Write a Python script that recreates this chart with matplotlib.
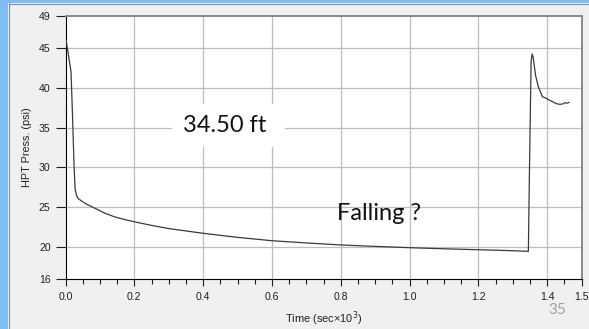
import matplotlib
matplotlib.use("Agg")
import matplotlib.pyplot as plt
from matplotlib.patches import Rectangle
from matplotlib.ticker import MultipleLocator, FixedLocator

# ---- data ----
time_k = [0.0015, 0.016, 0.020, 0.025, 0.028, 0.032, 0.037, 0.05, 0.066, 0.09,
          0.115, 0.144, 0.17, 0.2, 0.25, 0.3, 0.4, 0.5, 0.6, 0.7,
          0.8, 0.9, 1.0, 1.1, 1.2, 1.3, 1.345, 1.349, 1.353, 1.356,
          1.359, 1.362, 1.366, 1.374, 1.386, 1.395, 1.403, 1.41, 1.417, 1.426,
          1.436, 1.445, 1.451, 1.457, 1.463]
press = [46.0, 42.0, 37.0, 30.0, 27.3, 26.5, 26.1, 25.7, 25.3, 24.8,
         24.26, 23.8, 23.5, 23.2, 22.75, 22.35, 21.76, 21.25, 20.83, 20.55,
         20.3, 20.12, 19.96, 19.82, 19.7, 19.58, 19.5, 32.0, 43.3, 44.2,
         43.8, 42.8, 41.5, 40.1, 38.85, 38.7, 38.5, 38.35, 38.2, 38.0,
         37.9, 37.95, 38.1, 38.05, 38.15]
y_ticks = [16, 20, 25, 30, 35, 40, 45, 49]
x_ticks = [0.0, 0.2, 0.4, 0.6, 0.8, 1.0, 1.2, 1.4, 1.5]
x_ticklabels = ["0.0", "0.2", "0.4", "0.6", "0.8", "1.0", "1.2", "1.4", "1.5"]

W, H = 589, 329
fig = plt.figure(figsize=(W / 100, H / 100), dpi=100)
fig.patch.set_facecolor("#f0f0f0")

# window frame (blue strips)
fig.patches.append(Rectangle((0, 0), 8 / W, 1, transform=fig.transFigure,
                             facecolor="#80bdf2", edgecolor="none", zorder=0))
fig.patches.append(Rectangle((0, 1 - 3 / H), 1, 3 / H, transform=fig.transFigure,
                             facecolor="#80bdf2", edgecolor="none", zorder=0))
fig.add_artist(plt.Line2D([8.5 / W, 8.5 / W], [0, 1 - 3 / H], transform=fig.transFigure,
                          color="#7a8ea6", lw=0.8))
fig.add_artist(plt.Line2D([8.5 / W, 1], [1 - 3.5 / H, 1 - 3.5 / H], transform=fig.transFigure,
                          color="#7a8ea6", lw=0.8))

left, right, top, bottom = 65.5, 581.7, 15.7, 279.3
ax = fig.add_axes([left / W, 1 - bottom / H, (right - left) / W, (bottom - top) / H])
ax.set_facecolor("white")

ax.plot(time_k, press, color="#3a3a3a", lw=0.9, zorder=3)

ax.set_xlim(0, 1.5)
ax.set_ylim(16, 49)
ax.xaxis.set_major_locator(FixedLocator(x_ticks))
ax.set_xticklabels(x_ticklabels)
ax.xaxis.set_minor_locator(MultipleLocator(0.05))
ax.set_yticks(y_ticks)

sans = ["Liberation Sans", "DejaVu Sans"]
for lab in ax.get_xticklabels() + ax.get_yticklabels():
    lab.set_fontfamily(sans)
    lab.set_fontsize(7.6)
    lab.set_color("#202020")

ax.tick_params(axis="y", which="major", length=7.2, width=0.8, pad=3.5, color="#202020")
ax.tick_params(axis="x", which="major", length=5.2, width=0.8, pad=4, color="#202020")
ax.tick_params(axis="x", which="minor", length=3.4, width=0.8, color="#202020")

# grid
for yv in [20, 25, 30, 35, 40, 45]:
    ax.axhline(yv, color="#bdbdbd", lw=0.9, zorder=1)
for xv in [0.2, 0.4, 0.6, 0.8, 1.0, 1.2, 1.4]:
    ax.axvline(xv, color="#bdbdbd", lw=0.9, zorder=1)

for s in ["left", "bottom"]:
    ax.spines[s].set_color("#000000")
    ax.spines[s].set_linewidth(0.8)
for s in ["top", "right"]:
    ax.spines[s].set_color("#8a8a8a")
    ax.spines[s].set_linewidth(1.4)

ax.set_ylabel("HPT Press. (psi)", fontsize=7.8, family=sans, color="#202020", labelpad=5)
ax.set_xlabel("Time (sec\u00d710$^3$)", fontsize=7.9, family=sans, color="#202020", labelpad=5)

# annotation text boxes
fig.patches.append(Rectangle((172 / W, 1 - 147 / H), 113 / W, 43 / H, transform=fig.transFigure,
                             facecolor="white", edgecolor="none", zorder=5))
fig.text(225 / W, 1 - 126 / H, "34.50 ft", fontsize=17, family=["Lato", "DejaVu Sans"],
         ha="center", va="center", color="#111111", zorder=6)
fig.text(379 / W, 1 - 213 / H, "Falling ?", fontsize=17, family=["Lato", "DejaVu Sans"],
         ha="center", va="center", color="#111111", zorder=6)
fig.text(557 / W, 1 - 310 / H, "35", fontsize=11, family=["Lato", "DejaVu Sans"],
         ha="center", va="center", color="#a0a0a0", zorder=6)

fig.savefig("out.png", dpi=100, facecolor=fig.get_facecolor())
